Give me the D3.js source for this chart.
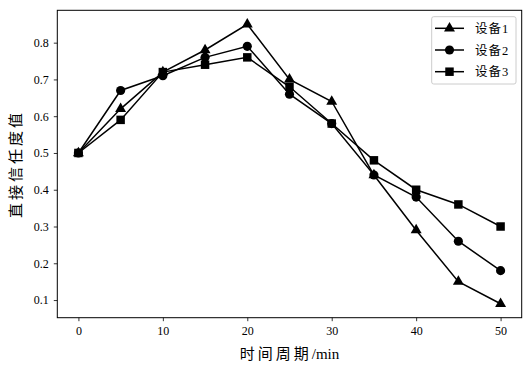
<!DOCTYPE html>
<html>
<head>
<meta charset="utf-8">
<script src="https://cdn.jsdelivr.net/npm/d3@7"></script>
<style>
  body { margin: 0; background: #fff; }
  text { font-family: "Liberation Serif", "Noto Sans CJK SC", serif; }
</style>
</head>
<body>
<script>
let width = 531;
let height = 372;

let times = [0, 5, 10, 15, 20, 25, 30, 35, 40, 45, 50];
let device1 = [0.5, 0.62, 0.72, 0.78, 0.85, 0.70, 0.64, 0.44, 0.29, 0.15, 0.09];
let device2 = [0.5, 0.67, 0.71, 0.76, 0.79, 0.66, 0.58, 0.44, 0.38, 0.26, 0.18];
let device3 = [0.5, 0.59, 0.72, 0.74, 0.76, 0.68, 0.58, 0.48, 0.40, 0.36, 0.30];
let seriesNames = ["设备1", "设备2", "设备3"];
let markerTypes = ["triangle", "circle", "square"];
let xTicks = [0, 10, 20, 30, 40, 50];
let yTicks = [0.1, 0.2, 0.3, 0.4, 0.5, 0.6, 0.7, 0.8];

let plotLeft = 57.3, plotRight = 521.7, plotTop = 10.3, plotBottom = 317.7;

let svg = d3.select("body").append("svg")
  .attr("width", width)
  .attr("height", height);

let x = d3.scaleLinear().domain([-2.5, 52.5]).range([plotLeft, plotRight]);
let y = d3.scaleLinear().domain([0.052, 0.888]).range([plotBottom, plotTop]);

let series = [device1, device2, device3].map(function(vals, i) {
  return {
    name: seriesNames[i],
    marker: markerTypes[i],
    points: vals.map(function(v, j) { return { t: times[j], v: v }; })
  };
});

function markerPath(type) {
  if (type === "triangle") return d3.symbol().type(d3.symbolTriangle).size(52)();
  if (type === "circle") return d3.symbol().type(d3.symbolCircle).size(66)();
  return d3.symbol().type(d3.symbolSquare).size(72)();
}

// axes
let xAxis = d3.axisBottom(x).tickValues(xTicks).tickSize(3.5).tickPadding(5)
  .tickFormat(d3.format("d"));
let yAxis = d3.axisLeft(y).tickValues(yTicks).tickSize(3.5).tickPadding(5)
  .tickFormat(d3.format(".1f"));

let gx = svg.append("g").attr("transform", "translate(0," + plotBottom + ")").call(xAxis);
let gy = svg.append("g").attr("transform", "translate(" + plotLeft + ",0)").call(yAxis);
[gx, gy].forEach(function(g) {
  g.select(".domain").remove();
  g.selectAll(".tick line").attr("stroke", "#000").attr("stroke-width", 0.8);
  g.selectAll(".tick text").attr("fill", "#000").style("font-size", "12px")
    .style("font-family", "Liberation Serif, serif");
});

let line = d3.line()
  .x(function(d) { return x(d.t); })
  .y(function(d) { return y(d.v); });

let groups = svg.selectAll(".series").data(series).enter().append("g");
groups.append("path")
  .attr("d", function(d) { return line(d.points); })
  .attr("fill", "none")
  .attr("stroke", "#000")
  .attr("stroke-width", 1.5);

groups.each(function(s) {
  d3.select(this).selectAll("path.pt").data(s.points).enter().append("path")
    .attr("class", "pt")
    .attr("d", markerPath(s.marker))
    .attr("transform", function(d) { return "translate(" + x(d.t) + "," + y(d.v) + ")"; })
    .attr("fill", "#000");
});

// frame
svg.append("rect")
  .attr("x", plotLeft).attr("y", plotTop)
  .attr("width", plotRight - plotLeft).attr("height", plotBottom - plotTop)
  .attr("fill", "none").attr("stroke", "#000").attr("stroke-width", 1);

// legend
let legend = svg.append("g");
legend.append("rect")
  .attr("x", 431.7).attr("y", 16.7).attr("width", 84.3).attr("height", 67.3)
  .attr("rx", 2).attr("fill", "#fff").attr("fill-opacity", 0.8)
  .attr("stroke", "#ccc").attr("stroke-width", 1);
let rows = legend.selectAll(".row").data(series).enter().append("g")
  .attr("transform", function(d, i) { return "translate(0," + (28.3 + i * 21.7) + ")"; });
rows.append("line").attr("x1", 435).attr("x2", 464).attr("y1", 0).attr("y2", 0)
  .attr("stroke", "#000").attr("stroke-width", 1.5);
rows.append("path").attr("d", function(d) { return markerPath(d.marker); })
  .attr("transform", "translate(449.5,0)").attr("fill", "#000");
rows.append("text").attr("x", 475).attr("y", 4.5)
  .style("font-size", "12.5px").style("letter-spacing", "1px")
  .text(function(d) { return d.name; });

// axis labels
let xLabel = svg.append("text")
  .attr("x", (plotLeft + plotRight) / 2).attr("y", 359)
  .attr("text-anchor", "middle").style("font-size", "15px");
xLabel.append("tspan").style("letter-spacing", "3px").text("时间周期");
xLabel.append("tspan").text("/min");

svg.append("text")
  .attr("transform", "translate(21," + ((plotTop + plotBottom) / 2) + ") rotate(-90)")
  .attr("text-anchor", "middle").style("font-size", "15px")
  .style("letter-spacing", "3px")
  .text("直接信任度值");
</script>
</body>
</html>
